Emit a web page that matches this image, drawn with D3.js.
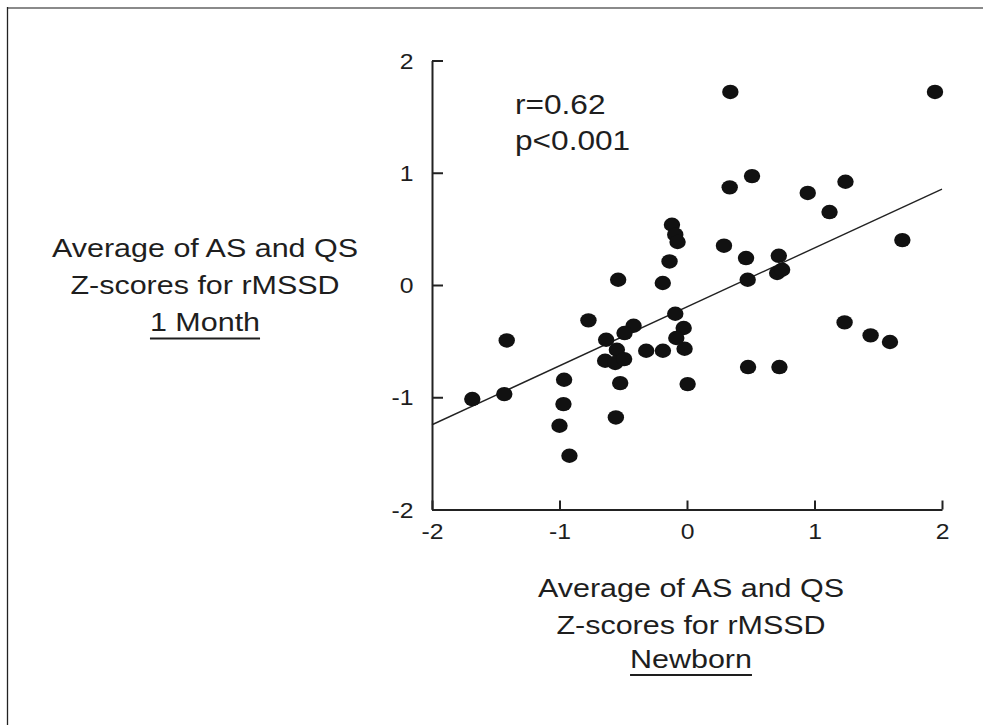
<!DOCTYPE html>
<html>
<head>
<meta charset="utf-8">
<script src="https://cdn.jsdelivr.net/npm/d3@7"></script>
<style>
  html, body { margin: 0; padding: 0; background: #fff; }
  svg { display: block; }
  text { font-family: "Liberation Sans", Arial, sans-serif; fill: #1e1e1e; }
</style>
</head>
<body>
<div id="chart"></div>
<script>
// ---- data ----
const xNewborn = [0.34, 1.945, 0.51, 0.335, 0.947, 1.243, 1.118, 1.689, 0.29, 0.463,
  0.72, 0.707, 0.746, 0.476, -0.118, -0.092, -0.074, -0.137, -0.54, -0.19,
  -0.773, -1.414, -0.092, -0.026, -0.084, -0.019, -0.419, -0.49, -0.634, -0.55,
  -0.642, -0.563, -0.493, -0.32, -0.189, -0.524, 0.005, -0.964, -0.969, -1.0,
  -0.922, -0.558, -1.684, -1.433, 1.236, 1.44, 1.592, 0.479, 0.725];
const yMonth = [1.72, 1.72, 0.97, 0.87, 0.82, 0.92, 0.65, 0.40, 0.35, 0.24,
  0.26, 0.107, 0.136, 0.047, 0.537, 0.448, 0.383, 0.21, 0.047, 0.018,
  -0.315, -0.494, -0.256, -0.383, -0.472, -0.568, -0.363, -0.428, -0.488, -0.577,
  -0.675, -0.695, -0.66, -0.586, -0.586, -0.874, -0.883, -0.844, -1.061, -1.254,
  -1.521, -1.18, -1.016, -0.972, -0.333, -0.449, -0.508, -0.731, -0.731];
const tickValues = [-2, -1, 0, 1, 2];
const tickLabels = ["-2", "-1", "0", "1", "2"];
const fitLine = { slope: 0.525, intercept: -0.195 };   // regression line y = a*x + b
const fitRange = [-2, 2];
const statsText = ["r=0.62", "p<0.001"];
const yTitle = ["Average of AS and QS", "Z-scores for rMSSD", "1 Month"];
const xTitle = ["Average of AS and QS", "Z-scores for rMSSD", "Newborn"];

// ---- layout ----
const W = 983, H = 725;
const SX = 1.15; // horizontal stretch of the reference typography
const svg = d3.select("#chart").append("svg").attr("width", W).attr("height", H);

// frame (top and left edges)
svg.append("line").attr("x1", 7).attr("x2", W).attr("y1", 8).attr("y2", 8)
  .attr("stroke", "#8a8a8a").attr("stroke-width", 2);
svg.append("line").attr("x1", 7.5).attr("x2", 7.5).attr("y1", 7).attr("y2", H)
  .attr("stroke", "#222").attr("stroke-width", 1.3);

const x = d3.scaleLinear().domain([-2, 2]).range([432, 942]);
const y = d3.scaleLinear().domain([-2, 2]).range([509.5, 60.5]);

// y axis
const gy = svg.append("g").attr("transform", `translate(${x(-2)},0)`)
  .call(d3.axisLeft(y).tickValues(tickValues).tickFormat((d, i) => tickLabels[i])
    .tickSizeInner(-11).tickSizeOuter(0).tickPadding(0));
gy.select(".domain").attr("stroke", "#222").attr("stroke-width", 2);
gy.selectAll(".tick line").attr("stroke", "#222").attr("stroke-width", 2);
gy.selectAll(".tick text").attr("font-size", 21.5).attr("fill", "#1e1e1e")
  .attr("font-family", "Liberation Sans, Arial, sans-serif")
  .attr("x", -18.5 / SX).attr("dy", "0.36em").attr("transform", `scale(${SX},1)`);

// x axis
const gx = svg.append("g").attr("transform", `translate(0,${y(-2)})`)
  .call(d3.axisBottom(x).tickValues(tickValues).tickFormat((d, i) => tickLabels[i])
    .tickSizeInner(-9).tickSizeOuter(0).tickPadding(0));
gx.select(".domain").attr("stroke", "#222").attr("stroke-width", 2);
gx.selectAll(".tick line").attr("stroke", "#222").attr("stroke-width", 2);
gx.selectAll(".tick text").attr("font-size", 21.5).attr("fill", "#1e1e1e")
  .attr("font-family", "Liberation Sans, Arial, sans-serif")
  .attr("x", 0).attr("y", 30).attr("dy", 0)
  .attr("transform", `scale(${SX},1)`);

// regression line
svg.append("line")
  .attr("x1", x(fitRange[0])).attr("y1", y(fitLine.slope * fitRange[0] + fitLine.intercept))
  .attr("x2", x(fitRange[1])).attr("y2", y(fitLine.slope * fitRange[1] + fitLine.intercept))
  .attr("stroke", "#222").attr("stroke-width", 1.4);

// points
const pts = xNewborn.map((v, i) => [v, yMonth[i]]);
svg.append("g").selectAll("ellipse").data(pts).join("ellipse")
  .attr("cx", d => x(d[0])).attr("cy", d => y(d[1]))
  .attr("rx", 8.2).attr("ry", 7.2).attr("fill", "#111");

// stretched text helper
function stext(tx, ty, str, size, anchor, underline) {
  const g = svg.append("g").attr("transform", `translate(${tx},${ty}) scale(${SX},1)`);
  const t = g.append("text").attr("x", 0).attr("y", 0).attr("font-size", size)
    .attr("text-anchor", anchor).text(str);
  if (underline) {
    const w = t.node().getComputedTextLength();
    const x0 = anchor === "middle" ? -w / 2 : 0;
    g.append("line").attr("x1", x0).attr("x2", x0 + w).attr("y1", 7.5).attr("y2", 7.5)
      .attr("stroke", "#1e1e1e").attr("stroke-width", 2);
  }
  return t;
}

// correlation stats
stext(515, 114, statsText[0], 27.5, "start", false);
stext(515, 150, statsText[1], 27.5, "start", false);

// y title (left)
const yBase = [256.7, 293.5, 331];
yTitle.forEach((s, i) => stext(205, yBase[i], s, 26.5, "middle", i === 2));

// x title (bottom)
const xBase = [597.3, 634, 667.5];
xTitle.forEach((s, i) => stext(691, xBase[i], s, 26.5, "middle", i === 2));
</script>
</body>
</html>
